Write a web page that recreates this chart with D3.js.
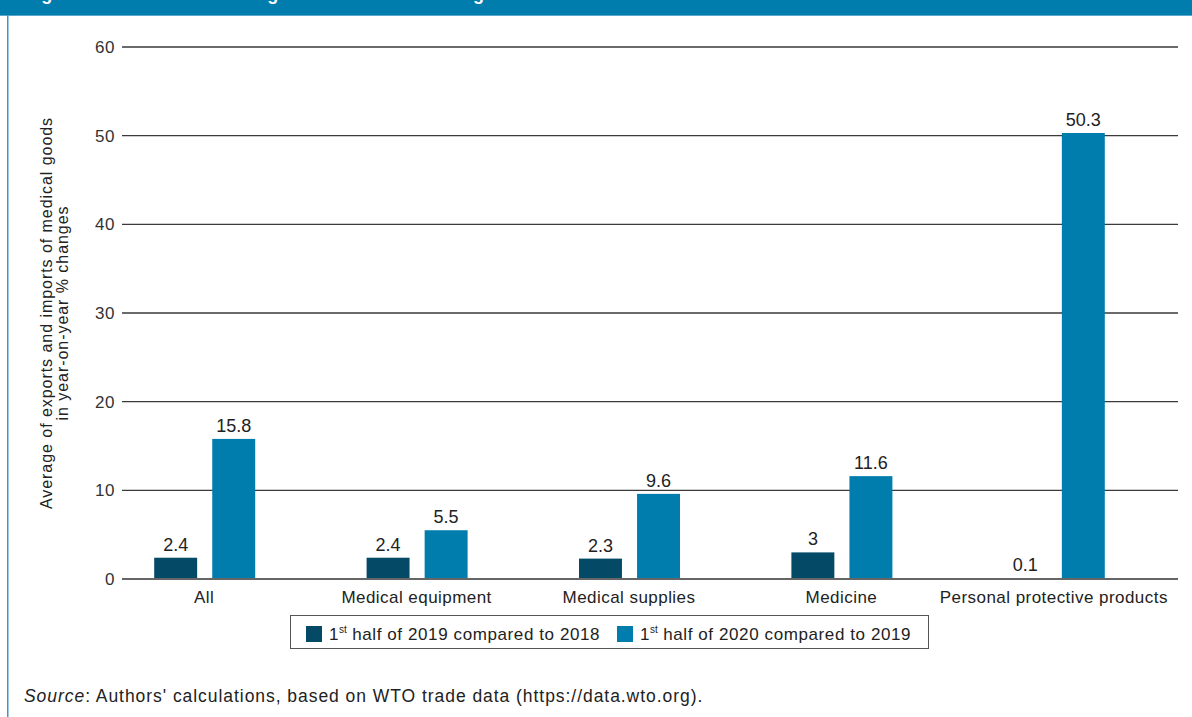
<!DOCTYPE html>
<html>
<head>
<meta charset="utf-8">
<script src="https://cdn.jsdelivr.net/npm/d3@7"></script>
<style>
  html, body { margin: 0; padding: 0; background: #fff; }
  svg { display: block; font-family: "Liberation Sans", Arial, Helvetica, sans-serif; }
</style>
</head>
<body>
<svg id="chart" width="1192" height="717"></svg>
<script>
const categories = ["All", "Medical equipment", "Medical supplies", "Medicine", "Personal protective products"];
const seriesNames = ["2019", "2020"];
const values2019 = [2.4, 2.4, 2.3, 3, 0.1];
const values2020 = [15.8, 5.5, 9.6, 11.6, 50.3];
const yTicks = [0, 10, 20, 30, 40, 50, 60];
const valueLabels2019 = ["2.4", "2.4", "2.3", "3", "0.1"];
const valueLabels2020 = ["15.8", "5.5", "9.6", "11.6", "50.3"];
const colors = ["#044a66", "#007dad"];

const svg = d3.select("#chart");
const W = 1192, H = 717;

// Header bar
svg.append("rect").attr("x", 0).attr("y", 0).attr("width", W).attr("height", 15).attr("fill", "#007dad");
svg.append("rect").attr("x", 0).attr("y", 15).attr("width", W).attr("height", 1).attr("fill", "#5aa9cc");
svg.append("text").attr("x", 24).attr("y", 0).attr("fill", "#fff").attr("font-weight", "bold")
  .attr("font-size", 18).attr("letter-spacing", 0.6)
  .text("Figure 4: Trade in medical goods increased during the first half of 2020");
// Left border
svg.append("rect").attr("x", 7).attr("y", 15).attr("width", 1.5).attr("height", H - 15).attr("fill", "#3c98c4");

const plotL = 122, plotR = 1178;
const y = d3.scaleLinear().domain([0, 60]).range([579, 47]);
const x0 = d3.scaleBand().domain(categories).range([98, 1160]).padding(0);
const x1 = d3.scaleBand().domain(seriesNames).range([-50, 51]).paddingInner(0.26);

// Gridlines
const g = svg.append("g");
g.selectAll("line.grid").data(yTicks).join("line")
  .attr("x1", plotL).attr("x2", plotR)
  .attr("y1", d => y(d)).attr("y2", d => y(d))
  .attr("stroke", d => d === 0 ? "#666" : "#3a3a3a")
  .attr("stroke-width", d => d === 0 ? 2 : 1.3);

// Y tick labels
g.selectAll("text.ytick").data(yTicks).join("text")
  .attr("x", 115).attr("y", d => y(d)).attr("dy", "0.35em")
  .attr("text-anchor", "end").attr("font-size", 17).attr("letter-spacing", 0.6).attr("fill", "#333")
  .text(d => d);

// Y axis title
const yt = svg.append("text").attr("transform", "translate(52,313) rotate(-90)")
  .attr("text-anchor", "middle").attr("font-size", 16).attr("letter-spacing", 0.95).attr("fill", "#222");
yt.append("tspan").attr("x", 0).attr("dy", 0).text("Average of exports and imports of medical goods");
yt.append("tspan").attr("x", 0).attr("dy", 16).text("in year-on-year % changes");

// Bars
const data = categories.map((c, i) => ({
  cat: c,
  vals: [
    { s: seriesNames[0], v: values2019[i], label: valueLabels2019[i], color: colors[0] },
    { s: seriesNames[1], v: values2020[i], label: valueLabels2020[i], color: colors[1] }
  ]
}));

const groups = svg.append("g").selectAll("g").data(data).join("g")
  .attr("transform", d => `translate(${x0(d.cat) + x0.bandwidth() / 2},0)`);

groups.selectAll("rect").data(d => d.vals).join("rect")
  .attr("x", d => x1(d.s)).attr("width", x1.bandwidth())
  .attr("y", d => y(d.v)).attr("height", d => y(0) - y(d.v) - 1)
  .attr("fill", d => d.color);

groups.selectAll("text.val").data(d => d.vals).join("text")
  .attr("class", "val")
  .attr("x", d => x1(d.s) + x1.bandwidth() / 2)
  .attr("y", d => y(d.v) - 7)
  .attr("text-anchor", "middle").attr("font-size", 18).attr("fill", "#222")
  .text(d => d.label);

groups.append("text")
  .attr("x", 0).attr("y", 603)
  .attr("text-anchor", "middle").attr("font-size", 17).attr("letter-spacing", 0.45).attr("fill", "#222")
  .text(d => d.cat);

// Legend
const leg = svg.append("g");
leg.append("rect").attr("x", 290.5).attr("y", 615.5).attr("width", 638).attr("height", 33)
  .attr("fill", "#fff").attr("stroke", "#555").attr("stroke-width", 1);
const legItems = [
  { x: 306, color: colors[0], pre: "1", sup: "st", post: " half of 2019 compared to 2018" },
  { x: 617, color: colors[1], pre: "1", sup: "st", post: " half of 2020 compared to 2019" }
];
legItems.forEach(it => {
  leg.append("rect").attr("x", it.x).attr("y", 626).attr("width", 16).attr("height", 16).attr("fill", it.color);
  const t = leg.append("text").attr("x", it.x + 23).attr("y", 640).attr("font-size", 17)
    .attr("letter-spacing", 0.6).attr("fill", "#222");
  t.append("tspan").text(it.pre);
  t.append("tspan").attr("font-size", 10).attr("letter-spacing", 0).attr("dy", -7).text(it.sup);
  t.append("tspan").attr("dy", 7).text(it.post);
});

// Source
const src = svg.append("text").attr("x", 24).attr("y", 702).attr("font-size", 17.5)
  .attr("letter-spacing", 0.95).attr("fill", "#222");
src.append("tspan").attr("font-style", "italic").text("Source");
src.append("tspan").text(": Authors' calculations, based on WTO trade data (https://data.wto.org).");
</script>
</body>
</html>
